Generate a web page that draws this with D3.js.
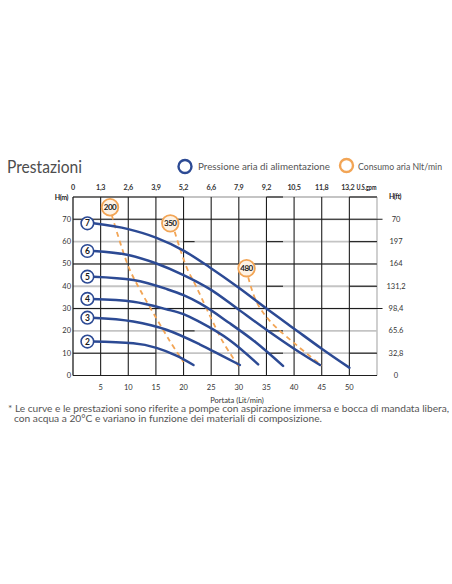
<!DOCTYPE html>
<html><head><meta charset="utf-8">
<script src="https://cdn.jsdelivr.net/npm/d3@7"></script>
<style>body{margin:0;background:#fff}svg{display:block}</style>
</head><body>
<svg id="c" width="452" height="584"></svg>
<script>
// ---- data ----
const flowTicks = [5,10,15,20,25,30,35,40,45,50];
const gpmTicks = ["0","1,3","2,6","3,9","5,2","6,6","7,9","9,2","10,5","11,8","13,2"];
const headTicks = [0,10,20,30,40,50,60,70];
const ftTicks = ["0","32,8","65.6","98,4","131,2","164","197","70"];
const pressureLabels = ["2","3","4","5","6","7"];
const curve2 = [[3.4,15.2],[10.9,14.4],[15.1,12.4],[18.7,8.9],[21.8,4.7]];
const curve3 = [[3.4,25.9],[10.9,24.2],[16.9,20.5],[22.9,14],[27,8.8],[30.2,4.7]];
const curve4 = [[3.4,34.3],[10.9,33.1],[16.9,29.7],[20,27.5],[22.9,24],[28.3,15.9],[33.5,5]];
const curve5 = [[3.7,44.3],[10.9,42.8],[16.9,38.8],[20,36],[22.9,32.4],[28.3,23.5],[33,15],[38,4.3]];
const curve6 = [[3.7,55.8],[10,54],[15.1,50.2],[20,45],[24.7,38.8],[30,29.5],[35,20.5],[40,12],[44.7,4.7]];
const curve7 = [[3.7,68.2],[10,65.6],[15,61.8],[20,56],[24.7,48.5],[30,39.3],[35,30],[40,21],[45,12],[50,3.5]];
const airLabels = ["200","350","480"];
const air200 = [[7,72],[10,49],[12,39],[15,26],[17.5,15.5],[20,6]];
const air350 = [[18.4,64.4],[20.5,48.8],[22.3,39.8],[25,25.6],[27.1,15.2],[30,4]];
const air480 = [[31.7,44],[33.2,33],[35.6,24.5],[40.5,13.5],[45,4.5]];
const airLabelPos = [[6.7,75.4],[17.6,68.2],[31.4,48.1]];

const curves = [curve2,curve3,curve4,curve5,curve6,curve7];
const airs = [air200,air350,air480];

// ---- layout ----
const svg = d3.select("#c");
const x = d3.scaleLinear().domain([0,55]).range([73,377]);
const y = d3.scaleLinear().domain([0,80]).range([375.5,197]);
const BLUE = "#2c4a94", ORANGE = "#f2a556", GREY = "#c4c4c4", DARK = "#1e1e1e";

// title & legend
svg.append("text").attr("x",7).attr("y",173).text("Prestazioni")
  .attr("font-family","Lato, 'Open Sans', sans-serif").attr("font-size",17.5)
  .attr("fill","#4d4d4d").attr("textLength",75).attr("lengthAdjust","spacingAndGlyphs");
svg.append("circle").attr("cx",185).attr("cy",166.5).attr("r",6.5)
  .attr("fill","none").attr("stroke",BLUE).attr("stroke-width",2.4);
svg.append("text").attr("x",198).attr("y",169.5).text("Pressione aria di alimentazione")
  .attr("font-family","Lato, sans-serif").attr("font-size",9).attr("fill","#555")
  .attr("textLength",132).attr("lengthAdjust","spacingAndGlyphs");
svg.append("circle").attr("cx",346.5).attr("cy",165.5).attr("r",6.5)
  .attr("fill","none").attr("stroke",ORANGE).attr("stroke-width",2.4);
svg.append("text").attr("x",358).attr("y",169.5).text("Consumo aria Nlt/min")
  .attr("font-family","Lato, sans-serif").attr("font-size",9).attr("fill","#555")
  .attr("textLength",84).attr("lengthAdjust","spacingAndGlyphs");

// grid
const g = svg.append("g");
headTicks.filter(d=>d>0).concat([80]).forEach(h=>{
  g.append("line").attr("x1",x(0)).attr("x2",x(55)).attr("y1",y(h)).attr("y2",y(h))
   .attr("stroke",GREY).attr("stroke-width",1.8);
});
g.append("line").attr("x1",x(55)).attr("x2",x(55)).attr("y1",y(0)).attr("y2",y(80))
  .attr("stroke",GREY).attr("stroke-width",1.6);
flowTicks.forEach(f=>{
  g.append("line").attr("x1",x(f)).attr("x2",x(f)).attr("y1",y(0)).attr("y2",y(80))
   .attr("stroke",DARK).attr("stroke-width",1.1);
});
// dark horizontal segments [head, from, to]
const darkSegs = [[70,0,56],[50,0,55],[30,0,56],[10,0,15],[80,0,20],
  [80,35,38],[80,50,55],[60,20,22],[60,35,38],[60,50,55],[40,35,38],[40,50,55],
  [20,20,22],[20,35,38],[10,35,38],[10,50,55],[0,0,55]];
darkSegs.forEach(s=>{
  g.append("line").attr("x1",x(s[1])).attr("x2",x(s[2])).attr("y1",y(s[0])).attr("y2",y(s[0]))
   .attr("stroke",DARK).attr("stroke-width",1.1);
});
g.append("line").attr("x1",x(0)).attr("x2",x(0)).attr("y1",y(0)).attr("y2",y(80))
  .attr("stroke",DARK).attr("stroke-width",1.3);

// axes text
const tf = "Lato, 'DejaVu Sans', sans-serif";
headTicks.forEach(h=>{
  svg.append("text").attr("x",71).attr("y",y(h)+2.5).attr("text-anchor","end").text(h)
   .attr("font-family",tf).attr("font-size",7.5).attr("fill","#333");
});
svg.append("text").attr("x",68).attr("y",200).attr("text-anchor","end").text("H(m)")
  .attr("font-family",tf).attr("font-size",7).attr("font-weight","bold").attr("fill","#222")
  .attr("letter-spacing",-0.4);
flowTicks.forEach(f=>{
  svg.append("text").attr("x",x(f)).attr("y",390).attr("text-anchor","middle").text(f)
   .attr("font-family",tf).attr("font-size",7.5).attr("fill","#333");
});
gpmTicks.forEach((t,i)=>{
  svg.append("text").attr("x",x(i*5) - (i===10?1.5:0)).attr("y",190).attr("text-anchor","middle").text(t)
   .attr("font-family",tf).attr("font-size",7.2).attr("font-weight","bold").attr("fill","#333")
   .attr("letter-spacing",-0.2);
});
svg.append("text").attr("x",356.5).attr("y",190).text("U.S.gpm")
  .attr("font-family",tf).attr("font-size",6.8).attr("font-weight","bold").attr("fill","#222")
  .attr("textLength",20).attr("lengthAdjust","spacingAndGlyphs");
svg.append("text").attr("x",395).attr("y",199).attr("text-anchor","middle").text("H(ft)")
  .attr("font-family",tf).attr("font-size",7).attr("font-weight","bold").attr("fill","#222")
  .attr("letter-spacing",-0.4);
ftTicks.forEach((t,i)=>{
  svg.append("text").attr("x",396).attr("y",y(headTicks[i])+2.5).attr("text-anchor","middle").text(t)
   .attr("font-family",tf).attr("font-size",7.5).attr("fill","#333");
});
svg.append("text").attr("x",237).attr("y",403).attr("text-anchor","middle").text("Portata  (Lit/min)")
  .attr("font-family",tf).attr("font-size",7.5).attr("fill","#333");

// air consumption dashed lines
const line = d3.line().x(d=>x(d[0])).y(d=>y(d[1])).curve(d3.curveMonotoneX);
const lineY = d3.line().x(d=>x(d[0])).y(d=>y(d[1])).curve(d3.curveCatmullRom.alpha(0.5));
airs.forEach(a=>{
  svg.append("path").attr("d",lineY(a)).attr("fill","none").attr("stroke",ORANGE)
   .attr("stroke-width",1.8).attr("stroke-dasharray","5,4");
});
// pressure curves
curves.forEach(c=>{
  svg.append("path").attr("d",line(c)).attr("fill","none").attr("stroke",BLUE)
   .attr("stroke-width",2.5).attr("stroke-linecap","round");
});
// pressure labels
curves.forEach((c,i)=>{
  const cy = y(c[0][1]);
  svg.append("circle").attr("cx",x(2.6)).attr("cy",cy).attr("r",6.3)
   .attr("fill","#fff").attr("stroke",BLUE).attr("stroke-width",1.6);
  svg.append("text").attr("x",x(2.6)).attr("y",cy+3).attr("text-anchor","middle").text(pressureLabels[i])
   .attr("font-family",tf).attr("font-size",8.5).attr("font-weight","bold").attr("fill","#1a1a1a");
});
// air labels
airLabelPos.forEach((p,i)=>{
  svg.append("circle").attr("cx",x(p[0])).attr("cy",y(p[1])).attr("r",8.3)
   .attr("fill","#fdf3e6").attr("stroke",ORANGE).attr("stroke-width",1.8);
  svg.append("text").attr("x",x(p[0])).attr("y",y(p[1])+3).attr("text-anchor","middle").text(airLabels[i])
   .attr("font-family",tf).attr("font-size",8).attr("font-weight","bold").attr("fill","#1a1a1a")
   .attr("letter-spacing",-0.5);
});

// footnote
svg.append("text").attr("x",8).attr("y",412).text("* Le curve e le prestazioni sono riferite a pompe con aspirazione immersa e bocca di mandata libera,")
  .attr("font-family",tf).attr("font-size",8.5).attr("fill","#555")
  .attr("textLength",441).attr("lengthAdjust","spacingAndGlyphs");
svg.append("text").attr("x",14).attr("y",422).text("con acqua a 20°C e variano in funzione dei materiali di composizione.")
  .attr("font-family",tf).attr("font-size",8.5).attr("fill","#555")
  .attr("textLength",308).attr("lengthAdjust","spacingAndGlyphs");
</script>
</body></html>
